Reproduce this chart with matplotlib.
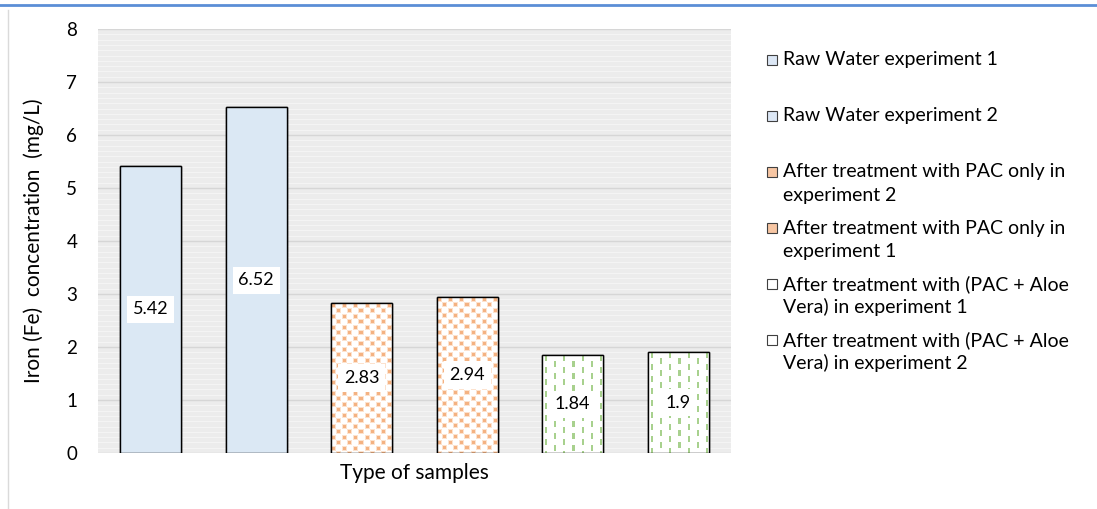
import numpy as np
import matplotlib
matplotlib.use("Agg")
import matplotlib.pyplot as plt
from matplotlib.patches import Rectangle
from matplotlib.lines import Line2D

plt.rcParams['font.family'] = ['Lato', 'DejaVu Sans']

# ---- data ----
values = [5.42, 6.52, 2.83, 2.94, 1.84, 1.9]
labels = [
    "Raw Water experiment 1",
    "Raw Water experiment 2",
    "After treatment with PAC only in\nexperiment 2",
    "After treatment with PAC only in\nexperiment 1",
    "After treatment with (PAC + Aloe\nVera) in experiment 1",
    "After treatment with (PAC + Aloe\nVera) in experiment 2",
]
fills = ["blue", "blue", "orange", "orange", "green", "green"]
y_ticks = [0, 1, 2, 3, 4, 5, 6, 7, 8]

W, H, DPI = 1097, 509, 100
fig = plt.figure(figsize=(W / DPI, H / DPI), dpi=DPI)
ax = fig.add_axes([98 / W, 1 - 453 / H, 633 / W, 424 / H])

ax.set_facecolor("#ececec")
ax.set_xlim(-0.5, len(values) - 0.5)
ax.set_ylim(0, 8)

# faint horizontal texture in the plot background
for yy in np.arange(0.1, 8, 0.1):
    if abs(yy - round(yy)) > 1e-6:
        ax.axhline(yy, color="#f4f4f4", lw=0.8, zorder=0)
for yy in y_ticks:
    ax.axhline(yy, color="#d6d6d6", lw=1.0, zorder=0.5)

for s in ax.spines.values():
    s.set_visible(False)
ax.set_xticks([])
ax.set_yticks(y_ticks)
ax.set_yticklabels([str(t) for t in y_ticks], fontsize=13.5)
ax.tick_params(axis="y", length=0, pad=15)

x = np.arange(len(values))
bars = ax.bar(x, values, width=0.58, color="white", edgecolor="black",
              linewidth=1.0, zorder=2)

# ---- fill textures ----
def orange_tile():
    t = np.ones((11, 11, 3))
    dark = np.array([0.96, 0.70, 0.51])
    light = np.array([0.99, 0.89, 0.81])
    for (r, c) in [(1, 1), (6, 6)]:
        for i in range(-1, 4):
            for j in range(-1, 4):
                t[(r + i) % 11, (c + j) % 11] = light
        for i in range(3):
            for j in range(3):
                t[(r + i) % 11, (c + j) % 11] = dark
    return t

def green_tile():
    t = np.ones((12, 18, 3))
    g = np.array([0.66, 0.82, 0.56])
    for i in range(6):
        t[i, 3:5] = g
        t[(i + 6) % 12, 12:14] = g
    return t

def blue_tile():
    t = np.ones((2, 2, 3))
    t[:, :] = np.array([0.86, 0.91, 0.96])
    return t

tiles = {"orange": orange_tile(), "green": green_tile(), "blue": blue_tile()}

fig.canvas.draw()
for b, f in zip(bars, fills):
    ext = b.get_window_extent()
    wpx, hpx = int(round(ext.width)), int(round(ext.height))
    tile = tiles[f]
    th, tw = tile.shape[:2]
    img = np.tile(tile, (hpx // th + 2, wpx // tw + 2, 1))[:hpx, :wpx]
    x0 = b.get_x()
    im = ax.imshow(img, extent=(x0, x0 + b.get_width(), 0, b.get_height()),
                   aspect="auto", interpolation="nearest", zorder=2.1,
                   origin="upper")
    im.set_clip_path(b)
    # outline drawn on top of the texture
    ax.add_patch(Rectangle((x0, 0), b.get_width(), b.get_height(),
                           fill=False, edgecolor="black", lw=1.0, zorder=2.2))

ax.set_xlim(-0.5, len(values) - 0.5)
ax.set_ylim(0, 8)

# value labels
for xi, v in zip(x, values):
    ax.text(xi, v / 2, f"{v:g}", ha="center", va="center", fontsize=13,
            zorder=3, bbox=dict(facecolor="white", edgecolor="none", pad=4))

ax.set_ylabel("Iron (Fe)  concentration  (mg/L)", fontsize=15, labelpad=16)
fig.text(414.5 / W, 1 - 473 / H, "Type of samples", ha="center", va="center",
         fontsize=15)

# legend entries
tx, y0, step, lh = 783, 60, 56, 23
for i, (lab, f) in enumerate(zip(labels, fills)):
    yc = y0 + step * i
    sq = 10
    face = {"blue": "#dce7f5", "orange": "#f7c6a3", "green": "white"}[f]
    fig.patches.append(Rectangle(((767) / W, 1 - (yc + sq / 2) / H),
                                 sq / W, sq / H, transform=fig.transFigure,
                                 facecolor=face, edgecolor="#404040", lw=0.8))
    for k, line in enumerate(lab.split("\n")):
        fig.text(tx / W, 1 - (yc + k * lh) / H, line, ha="left",
                 va="center", fontsize=14)

# frame decorations
fig.add_artist(Line2D([0, 1], [1 - 5 / H, 1 - 5 / H], color="#5b8ed6",
                      lw=2, transform=fig.transFigure))
fig.add_artist(Line2D([8 / W, 8 / W], [0, 1 - 10 / H], color="#dadada",
                      lw=1, transform=fig.transFigure))

fig.savefig("out.png", dpi=DPI)
